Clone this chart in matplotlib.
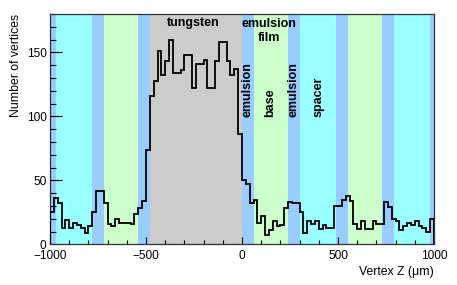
import matplotlib
matplotlib.use('Agg')
import matplotlib.pyplot as plt
import numpy as np
from matplotlib.ticker import MultipleLocator

plt.rcParams['font.family'] = ['Liberation Sans', 'DejaVu Sans']

# vertex counts in 20 um bins from -1000 to 1000 um
bin_edges = np.arange(-1000, 1001, 20)
counts = [25, 36, 32, 13, 19, 13, 17, 15, 13, 9,
          14, 25, 42, 42, 32, 16, 14, 20, 17, 17,
          17, 16, 24, 28, 34, 74, 116, 128, 151, 132,
          143, 160, 134, 134, 136, 148, 148, 122, 141, 141,
          144, 122, 122, 143, 158, 158, 143, 132, 137, 86,
          50, 47, 32, 35, 17, 22, 7, 11, 18, 14,
          15, 28, 33, 32, 32, 25, 9, 18, 16, 18,
          12, 15, 13, 13, 30, 30, 35, 38, 34, 16,
          12, 18, 12, 12, 18, 16, 16, 33, 29, 20,
          18, 11, 14, 17, 15, 18, 14, 13, 10, 20]

# detector layers along z (um)
layer_start = [-1030, -970, -780, -720, -540, -480, 0, 60, 240, 300, 490, 550, 730, 790, 980]
layer_end = [-970, -780, -720, -540, -480, 0, 60, 240, 300, 490, 550, 730, 790, 980, 1040]
layer_kind = ['emulsion', 'spacer', 'emulsion', 'base', 'emulsion', 'tungsten',
              'emulsion', 'base', 'emulsion', 'spacer', 'emulsion', 'base',
              'emulsion', 'spacer', 'emulsion']

layer_colors = {'emulsion': '#99ccff', 'spacer': '#99ffff',
                'base': '#ccffcc', 'tungsten': '#cccccc'}

fig = plt.figure(figsize=(4.57, 2.85), dpi=100)
ax = fig.add_axes([0.1094, 0.1428, 0.8403, 0.8081])

for s, e, k in zip(layer_start, layer_end, layer_kind):
    ax.axvspan(s, e, color=layer_colors[k], lw=0, zorder=0)

ax.stairs(counts, bin_edges, color='black', lw=1.3, zorder=3)

ax.set_xlim(-1000, 1000)
ax.set_ylim(0, 180)

ax.xaxis.set_major_locator(MultipleLocator(500))
ax.xaxis.set_minor_locator(MultipleLocator(100))
ax.yaxis.set_major_locator(MultipleLocator(50))
ax.yaxis.set_minor_locator(MultipleLocator(10))

ax.tick_params(axis='both', which='both', direction='in', width=0.8, color='black',
               labelsize=8.6)
ax.tick_params(axis='x', which='major', length=5, pad=4)
ax.tick_params(axis='x', which='minor', length=3.2)
ax.tick_params(axis='y', which='major', length=8.4, pad=2.5)
ax.tick_params(axis='y', which='minor', length=4.3)

for sp in ax.spines.values():
    sp.set_color('#333333')
    sp.set_linewidth(0.9)

ax.set_xlabel('Vertex Z (\u03bcm)', fontsize=8.8, loc='right')
ax.xaxis.set_label_coords(1.0, -0.094)
ax.set_ylabel('Number of vertices', fontsize=8.8, loc='top', va='center')
ax.yaxis.set_label_coords(-0.0898, 1.0)

font = dict(fontsize=9, fontweight='bold', color='black', zorder=4)
ax.text(-255, 173, 'tungsten', ha='center', va='center', **font)
ax.text(139, 167, 'emulsion\nfilm', ha='center', va='center', linespacing=1.25, **font)
ax.text(29, 99.7, 'emulsion', rotation=90, ha='center', va='bottom', **font)
ax.text(146, 99.7, 'base', rotation=90, ha='center', va='bottom', **font)
ax.text(270, 99.7, 'emulsion', rotation=90, ha='center', va='bottom', **font)
ax.text(397, 99.7, 'spacer', rotation=90, ha='center', va='bottom', **font)

fig.savefig('out.png', dpi=100)
